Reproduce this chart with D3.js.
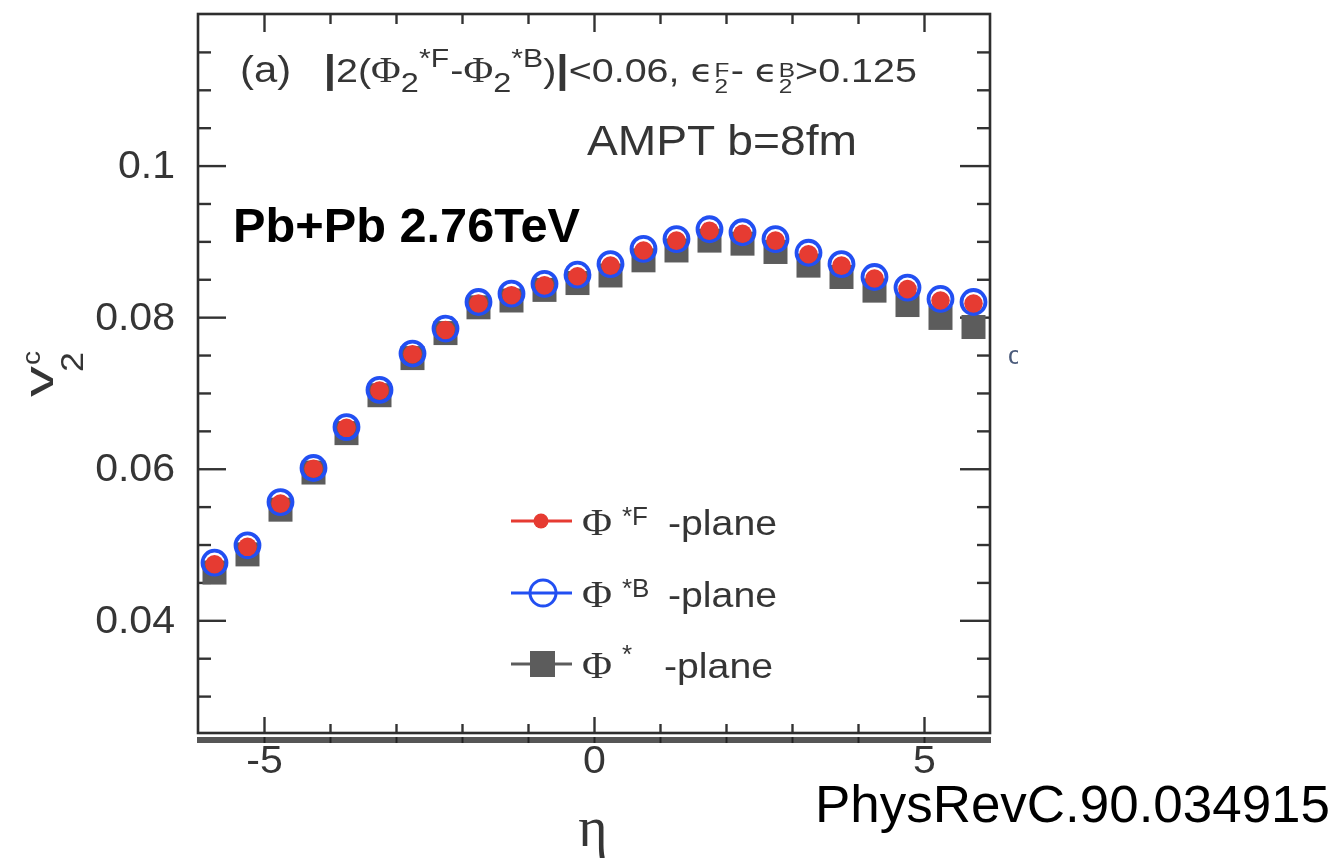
<!DOCTYPE html>
<html>
<head>
<meta charset="utf-8">
<script src="https://cdn.jsdelivr.net/npm/d3@7"></script>
<style>
  html, body { margin: 0; padding: 0; background: #fff; }
  svg { display: block; }
</style>
</head>
<body>
<svg id="chart" width="1338" height="858"></svg>
<script>
// pseudorapidity bins
const eta = [-5.75, -5.25, -4.75, -4.25, -3.75, -3.25, -2.75, -2.25, -1.75, -1.25, -0.75, -0.25,
             0.25, 0.75, 1.25, 1.75, 2.25, 2.75, 3.25, 3.75, 4.25, 4.75, 5.25, 5.75];
// v2 relative to the forward plane
const v2F = [0.0474, 0.0497, 0.0554, 0.0600, 0.0654, 0.0703, 0.0751, 0.0783, 0.0818, 0.0829, 0.0842, 0.0854,
             0.0868, 0.0888, 0.0901, 0.0914, 0.0910, 0.0901, 0.0883, 0.0868, 0.0851, 0.0837, 0.0822, 0.0818];
// v2 relative to the backward plane
const v2B = [0.0476, 0.0499, 0.0556, 0.0601, 0.0655, 0.0704, 0.0752, 0.0785, 0.0820, 0.0831, 0.0844, 0.0856,
             0.0870, 0.0890, 0.0903, 0.0916, 0.0912, 0.0903, 0.0885, 0.0870, 0.0853, 0.0839, 0.0824, 0.0820];
// v2 relative to the combined plane
const v2S = [0.0463, 0.0487, 0.0546, 0.0595, 0.0647, 0.0697, 0.0746, 0.0779, 0.0813, 0.0822, 0.0836, 0.0845,
             0.0855, 0.0875, 0.0888, 0.0901, 0.0897, 0.0886, 0.0868, 0.0853, 0.0835, 0.0816, 0.0799, 0.0787];

const xMajor = [-5, 0, 5];
const xMinor = [-4, -3, -2, -1, 1, 2, 3, 4];
const yMajor = [0.04, 0.06, 0.08, 0.1];
const yMinor = [0.03, 0.035, 0.045, 0.05, 0.055, 0.065, 0.07, 0.075, 0.085, 0.09, 0.095, 0.105, 0.11, 0.115];

const legendSup = ["*F", "*B", "*"];
const legendText = "-plane";

const svg = d3.select("#chart");
const SANS = "'Liberation Sans', Arial, Helvetica, sans-serif";
const SERIF = "'Liberation Serif', 'Times New Roman', serif";
const INK = "#363636";
const RED = "#e63a30", BLUE = "#2350f2", GREY = "#5c5c5c";

const x = d3.scaleLinear().domain([-6, 6]).range([198, 990]);
const y = d3.scaleLinear().domain([0.025, 0.12]).range([734, 14]);

const defs = svg.append("defs");
defs.append("filter").attr("id", "soft")
  .append("feGaussianBlur").attr("stdDeviation", 0.6);
defs.append("clipPath").attr("id", "edgeClip")
  .append("rect").attr("x", 1000).attr("y", 330).attr("width", 18).attr("height", 50);

const plot = svg.append("g").attr("filter", "url(#soft)");

// band under the lower frame edge
plot.append("rect").attr("x", 197).attr("y", 737).attr("width", 794).attr("height", 6).attr("fill", "#575757");
plot.append("g").attr("transform", "translate(0,737)")
  .call(d3.axisBottom(x).tickValues(xMajor.concat(xMinor)).tickSize(6).tickSizeOuter(0).tickFormat(""))
  .call(g => g.select(".domain").remove())
  .call(g => g.selectAll("line").attr("stroke", "#222").attr("stroke-width", 2));

// axes with inward ticks
function styleAxis(g) {
  g.select(".domain").remove();
  g.selectAll("line").attr("stroke", "#333").attr("stroke-width", 2.4);
  g.selectAll("text").attr("font-family", SANS).attr("font-size", 38).attr("fill", INK)
    .each(function () {
      const w = this.getComputedTextLength();
      d3.select(this).attr("textLength", w * 1.08).attr("lengthAdjust", "spacingAndGlyphs");
    });
}
const plain = d => String(d);
// left
plot.append("g").attr("transform", "translate(198,0)")
  .call(d3.axisLeft(y).tickValues(yMajor).tickSize(-28).tickPadding(23).tickFormat(plain))
  .call(styleAxis);
plot.append("g").attr("transform", "translate(198,0)")
  .call(d3.axisLeft(y).tickValues(yMinor).tickSize(-13).tickFormat(""))
  .call(styleAxis);
// right
plot.append("g").attr("transform", "translate(990,0)")
  .call(d3.axisRight(y).tickValues(yMajor).tickSize(-30).tickFormat(""))
  .call(styleAxis);
plot.append("g").attr("transform", "translate(990,0)")
  .call(d3.axisRight(y).tickValues(yMinor).tickSize(-13).tickFormat(""))
  .call(styleAxis);
// bottom
plot.append("g").attr("transform", "translate(0,733)")
  .call(d3.axisBottom(x).tickValues(xMajor).tickSize(-16).tickPadding(13).tickFormat(plain))
  .call(styleAxis);
plot.append("g").attr("transform", "translate(0,733)")
  .call(d3.axisBottom(x).tickValues(xMinor).tickSize(-9).tickFormat(""))
  .call(styleAxis);
// top
plot.append("g").attr("transform", "translate(0,14)")
  .call(d3.axisTop(x).tickValues(xMajor).tickSize(-18).tickFormat(""))
  .call(styleAxis);
plot.append("g").attr("transform", "translate(0,14)")
  .call(d3.axisTop(x).tickValues(xMinor).tickSize(-10).tickFormat(""))
  .call(styleAxis);

// frame
plot.append("rect").attr("x", 198).attr("y", 14).attr("width", 792).attr("height", 719)
  .attr("fill", "none").attr("stroke", "#2e2e2e").attr("stroke-width", 2.6);

// data markers: squares, then open circles, then filled dots
const marks = plot.append("g");
marks.selectAll("rect.sq").data(eta).join("rect").attr("class", "sq")
  .attr("x", d => x(d) - 12).attr("y", (d, i) => y(v2S[i]) - 12)
  .attr("width", 24).attr("height", 24).attr("fill", GREY);
marks.selectAll("circle.open").data(eta).join("circle").attr("class", "open")
  .attr("cx", d => x(d)).attr("cy", (d, i) => y(v2B[i])).attr("r", 12)
  .attr("fill", "none").attr("stroke", BLUE).attr("stroke-width", 3.8);
marks.selectAll("circle.dot").data(eta).join("circle").attr("class", "dot")
  .attr("cx", d => x(d)).attr("cy", (d, i) => y(v2F[i])).attr("r", 9.3)
  .attr("fill", RED);

// sequential text runs (used for the selection label)
function run(g, pieces) {
  let cx = 0;
  pieces.forEach(p => {
    if (p.stack) {
      const ws = p.stack.map(s => {
        const t = g.append("text").attr("x", cx).attr("y", s.dy)
          .attr("font-family", s.font || SANS).attr("font-size", s.size).attr("fill", INK).text(s.t);
        return t.node().getComputedTextLength();
      });
      cx += d3.max(ws) + (p.after || 0);
    } else {
      const t = g.append("text").attr("x", cx).attr("y", p.dy || 0)
        .attr("font-family", p.font || SANS).attr("font-size", p.size || 34)
        .attr("font-weight", p.bold ? "bold" : null)
        .attr("fill", INK).style("white-space", "pre").text(p.t);
      cx += t.node().getComputedTextLength() + (p.after || 0);
    }
  });
  return cx;
}

const title = plot.append("g");
const titleW = run(title, [
  { t: "(a)", size: 36, after: 28 },
  { t: "|", bold: true, size: 38 },
  { t: "2(" },
  { t: "Φ", font: SERIF, size: 35 },
  { t: "2", size: 28, dy: 10 },
  { t: "*F", size: 26, dy: -15, after: 1 },
  { t: "-" },
  { t: "Φ", font: SERIF, size: 35 },
  { t: "2", size: 28, dy: 10 },
  { t: "*B", size: 26, dy: -15 },
  { t: ")" },
  { t: "|", bold: true, size: 38 },
  { t: "<0.06, " },
  { t: "ϵ", font: "'DejaVu Sans', sans-serif", size: 32, after: 1 },
  { stack: [{ t: "F", size: 21, dy: -5 }, { t: "2", size: 21, dy: 11 }], after: 1 },
  { t: "- " },
  { t: "ϵ", font: "'DejaVu Sans', sans-serif", size: 32, after: 1 },
  { stack: [{ t: "B", size: 21, dy: -5 }, { t: "2", size: 21, dy: 11 }] },
  { t: ">0.125" }
]);
title.attr("transform", `translate(240,82) scale(${677 / titleW},1)`);

plot.append("text").attr("x", 587).attr("y", 155)
  .attr("font-family", SANS).attr("font-size", 42).attr("fill", INK)
  .attr("textLength", 270).attr("lengthAdjust", "spacingAndGlyphs").text("AMPT b=8fm");

// y-axis label v2^c
const yl = plot.append("g").attr("transform", "translate(53,397) rotate(-90)");
yl.append("text").attr("x", 0).attr("y", 0).attr("font-family", SANS).attr("font-size", 40)
  .attr("fill", INK).attr("textLength", 31).attr("lengthAdjust", "spacingAndGlyphs").text("v");
yl.append("text").attr("x", 25).attr("y", 30).attr("font-family", SANS).attr("font-size", 31)
  .attr("fill", INK).attr("textLength", 20).attr("lengthAdjust", "spacingAndGlyphs").text("2");
yl.append("text").attr("x", 32).attr("y", -13).attr("font-family", SANS).attr("font-size", 26)
  .attr("fill", INK).attr("textLength", 14).attr("lengthAdjust", "spacingAndGlyphs").text("c");

// x-axis label
plot.append("text").attr("x", 593).attr("y", 846).attr("text-anchor", "middle")
  .attr("font-family", SERIF).attr("font-size", 56).attr("fill", INK).text("η");

// fragment of a neighbouring label at the right edge
plot.append("text").attr("x", 1008).attr("y", 364).attr("clip-path", "url(#edgeClip)")
  .attr("font-family", SANS).attr("font-size", 26).attr("fill", "#4a5a7a").text("o");

// legend
const legendSeries = [
  { sym: "dot", color: RED, sup: legendSup[0], y: 521 },
  { sym: "ring", color: BLUE, sup: legendSup[1], y: 593 },
  { sym: "square", color: GREY, sup: legendSup[2], y: 664 }
];
const leg = plot.append("g").selectAll("g").data(legendSeries).join("g")
  .attr("transform", d => `translate(0,${d.y})`);
leg.append("line").attr("x1", 511).attr("x2", 572).attr("y1", 0).attr("y2", 0)
  .attr("stroke", d => d.color).attr("stroke-width", 3);
leg.filter(d => d.sym === "dot").append("circle").attr("cx", 541).attr("cy", 0).attr("r", 7.5).attr("fill", RED);
leg.filter(d => d.sym === "ring").append("circle").attr("cx", 543).attr("cy", 0).attr("r", 13)
  .attr("fill", "none").attr("stroke", BLUE).attr("stroke-width", 3);
leg.filter(d => d.sym === "square").append("rect").attr("x", 530).attr("y", -13)
  .attr("width", 25).attr("height", 26).attr("fill", GREY);
leg.append("text").attr("x", 582).attr("y", 14).attr("font-family", SERIF).attr("font-size", 38)
  .attr("fill", INK).attr("textLength", 30).attr("lengthAdjust", "spacingAndGlyphs").text("Φ");
leg.append("text").attr("x", 622).attr("y", d => d.sup === "*" ? -1 : 4).attr("font-family", SANS).attr("font-size", 26)
  .attr("fill", INK).text(d => d.sup);
leg.append("text").attr("x", (d, i) => i === 2 ? 664 : 668).attr("y", 14).attr("font-family", SANS).attr("font-size", 35)
  .attr("fill", INK).attr("textLength", 109).attr("lengthAdjust", "spacingAndGlyphs").text(legendText);

// crisp annotations
svg.append("text").attr("x", 233).attr("y", 242)
  .attr("font-family", SANS).attr("font-weight", "bold").attr("font-size", 48).attr("fill", "#000")
  .attr("textLength", 347).attr("lengthAdjust", "spacingAndGlyphs").text("Pb+Pb 2.76TeV");
svg.append("text").attr("x", 815).attr("y", 822)
  .attr("font-family", SANS).attr("font-size", 51).attr("fill", "#000")
  .attr("textLength", 515).attr("lengthAdjust", "spacingAndGlyphs").text("PhysRevC.90.034915");
</script>
</body>
</html>
